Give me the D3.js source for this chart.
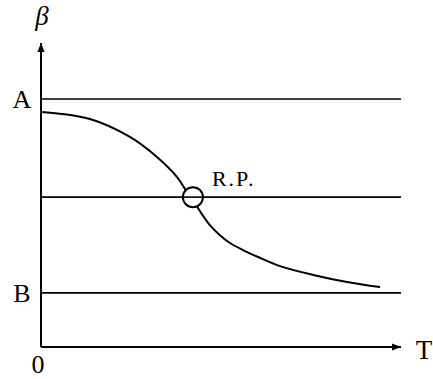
<!DOCTYPE html>
<html>
<head>
<meta charset="utf-8">
<script src="https://cdn.jsdelivr.net/npm/d3@7"></script>
<style>
  body { margin: 0; background: #fff; }
  text { font-family: "Liberation Serif", "DejaVu Serif", serif; fill: #000; }
</style>
</head>
<body>
<svg id="chart" width="433" height="379"></svg>
<script>
// levels (arbitrary units, 0..100 on both axes)
var levelNames = ["A", "", "B"];
var levelValues = [81.6, 49.3, 17.8];

// curve
var curveT = [0.3, 13.6, 24.7, 32.2, 37.8, 40, 42.2, 43.6, 46.9, 49.7, 52.5, 56.1, 60.3, 66.4, 75.6, 85, 94.2];
var curveB = [77.3, 75, 69.1, 62.5, 55.9, 52, 48.7, 45.7, 40.1, 36.8, 34.2, 31.9, 29.6, 26.6, 23.7, 21.4, 19.7];

// reference point
var rpT = 42.2, rpB = 49.3, rpLabel = "R.P.";

var svg = d3.select("#chart");

var x = d3.scaleLinear().domain([0, 100]).range([41, 401]),
    y = d3.scaleLinear().domain([0, 100]).range([347, 43]);

// arrow heads
svg.append("defs").append("marker")
    .attr("id", "arrow")
    .attr("viewBox", "0 0 10 10")
    .attr("refX", 10).attr("refY", 5)
    .attr("markerUnits", "userSpaceOnUse")
    .attr("markerWidth", 12).attr("markerHeight", 9)
    .attr("orient", "auto")
    .append("path")
    .attr("d", "M0,1 L10,5 L0,9 Z")
    .attr("fill", "#000");

// axes
svg.append("line")
    .attr("x1", x(0)).attr("y1", y(0))
    .attr("x2", x(0)).attr("y2", y(100))
    .attr("stroke", "#000").attr("stroke-width", 2)
    .attr("marker-end", "url(#arrow)");

svg.append("line")
    .attr("x1", x(0)).attr("y1", y(0))
    .attr("x2", x(100)).attr("y2", y(0))
    .attr("stroke", "#000").attr("stroke-width", 2)
    .attr("marker-end", "url(#arrow)");

// horizontal levels
svg.selectAll(".level")
    .data(levelValues)
    .enter().append("line")
    .attr("class", "level")
    .attr("x1", x(0)).attr("x2", x(100))
    .attr("y1", d => y(d)).attr("y2", d => y(d))
    .attr("stroke", "#000").attr("stroke-width", 1.6);

svg.selectAll(".levelLabel")
    .data(levelValues)
    .enter().append("text")
    .attr("class", "levelLabel")
    .attr("x", 22)
    .attr("y", d => y(d) + 9)
    .attr("text-anchor", "middle")
    .style("font-size", "26px")
    .text((d, i) => levelNames[i]);

// curve
var pts = curveT.map((t, i) => [t, curveB[i]]);
var line = d3.line()
    .x(d => x(d[0]))
    .y(d => y(d[1]))
    .curve(d3.curveCatmullRom.alpha(0.5));

svg.append("path")
    .datum(pts)
    .attr("d", line)
    .attr("fill", "none")
    .attr("stroke", "#000")
    .attr("stroke-width", 2);

// reference point
svg.append("circle")
    .attr("cx", x(rpT)).attr("cy", y(rpB))
    .attr("r", 10)
    .attr("fill", "#fff")
    .attr("stroke", "#000").attr("stroke-width", 2);

svg.append("line")
    .attr("x1", x(rpT) - 10).attr("x2", x(rpT) + 10)
    .attr("y1", y(rpB)).attr("y2", y(rpB))
    .attr("stroke", "#000").attr("stroke-width", 1.6);

svg.append("text")
    .attr("x", x(rpT) + 19)
    .attr("y", y(rpB) - 11)
    .style("font-size", "22px")
    .style("letter-spacing", "2px")
    .text(rpLabel);

// axis labels
svg.append("text")
    .attr("x", 42).attr("y", 25)
    .attr("text-anchor", "middle")
    .style("font-size", "27px")
    .style("font-style", "italic")
    .text("β");

svg.append("text")
    .attr("x", 38).attr("y", 373)
    .attr("text-anchor", "middle")
    .style("font-size", "26px")
    .text("0");

svg.append("text")
    .attr("x", 424).attr("y", 359)
    .attr("text-anchor", "middle")
    .style("font-size", "27px")
    .text("T");
</script>
</body>
</html>
